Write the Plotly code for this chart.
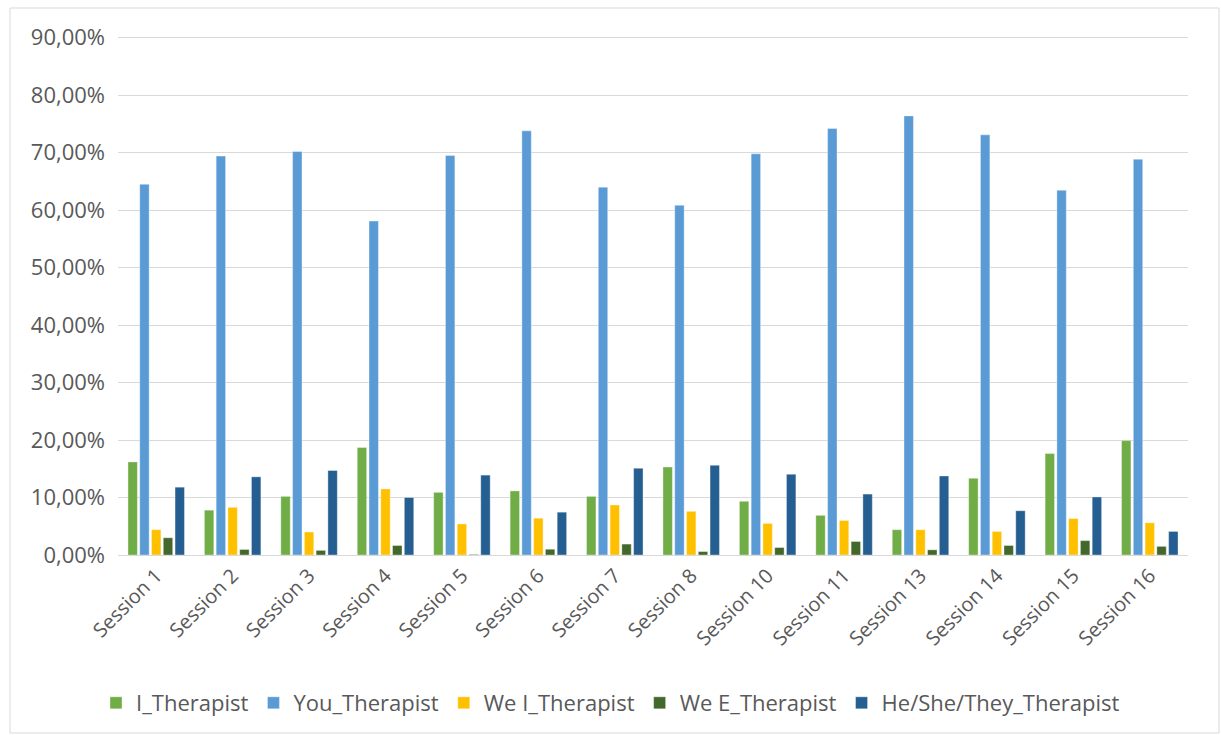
import plotly.graph_objects as go

sessions = ["Session 1", "Session 2", "Session 3", "Session 4", "Session 5", "Session 6",
            "Session 7", "Session 8", "Session 10", "Session 11", "Session 13", "Session 14",
            "Session 15", "Session 16"]

i_therapist = [16.2, 7.8, 10.2, 18.7, 10.9, 11.15, 10.2, 15.3, 9.35, 6.9, 4.4, 13.35, 17.65, 19.9]
you_therapist = [64.5, 69.4, 70.2, 58.1, 69.5, 73.8, 64.0, 60.85, 69.8, 74.2, 76.4, 73.1, 63.45, 68.85]
we_i_therapist = [4.4, 8.3, 4.0, 11.5, 5.4, 6.4, 8.7, 7.6, 5.5, 6.0, 4.4, 4.1, 6.35, 5.6]
we_e_therapist = [3.0, 0.96, 0.8, 1.65, 0.1, 1.0, 1.9, 0.6, 1.3, 2.35, 0.9, 1.65, 2.5, 1.5]
he_she_they_therapist = [11.8, 13.6, 14.7, 10.0, 13.9, 7.45, 15.1, 15.6, 14.05, 10.6, 13.75, 7.7, 10.1, 4.1]

series = [
    ("I_Therapist", i_therapist, "#70AD47"),
    ("You_Therapist", you_therapist, "#5B9BD5"),
    ("We I_Therapist", we_i_therapist, "#FFC000"),
    ("We E_Therapist", we_e_therapist, "#43682B"),
    ("He/She/They_Therapist", he_she_they_therapist, "#255E91"),
]

fig = go.Figure()
for name, vals, color in series:
    fig.add_trace(go.Bar(
        x=sessions,
        y=[v / 100 for v in vals],
        name=name,
        marker=dict(color=color, line=dict(color="rgba(255,255,255,0.6)", width=0.6)),
    ))

font_family = "'Open Sans', Lato, sans-serif"
grey = "#595959"

top, bottom = 36, 180
plot_h = 735 - top - bottom

fig.update_layout(
    width=1221,
    height=735,
    barmode="group",
    bargap=0.23,
    bargroupgap=0.2,
    separators=",.",
    paper_bgcolor="white",
    plot_bgcolor="white",
    margin=dict(l=118, r=33, t=top, b=bottom, autoexpand=False),
    font=dict(family=font_family, color=grey, size=20),
    xaxis=dict(
        tickangle=-45,
        tickfont=dict(size=20, color=grey),
        showgrid=False,
        showline=True,
        linecolor="#d9d9d9",
        linewidth=1,
        ticks="",
        automargin=False,
    ),
    yaxis=dict(
        range=[0, 0.903],
        tickvals=[i / 10 for i in range(10)],
        tickformat=".2%",
        tickfont=dict(size=22, color=grey),
        showgrid=True,
        gridcolor="#d9d9d9",
        gridwidth=1,
        zeroline=False,
        ticks="",
        ticklabelstandoff=12,
        automargin=False,
    ),
    legend=dict(
        orientation="h",
        x=0.5,
        xanchor="center",
        xref="container",
        yref="container",
        y=1 - 703 / 735,
        yanchor="middle",
        font=dict(size=22, color=grey),
        itemwidth=30,
        traceorder="normal",
    ),
    shapes=[dict(
        type="rect", xref="paper", yref="paper",
        x0=-108 / 1070, x1=1 + 31 / 1070,
        y0=-(bottom - 2) / plot_h, y1=1 + (top - 8) / plot_h,
        line=dict(color="#d9d9d9", width=1),
    )],
)

fig.write_html("out.html")
